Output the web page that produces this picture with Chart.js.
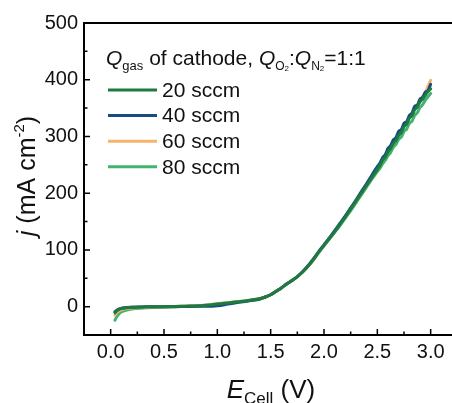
<!DOCTYPE html>
<html>
<head>
<meta charset="utf-8">
<script src="https://cdn.jsdelivr.net/npm/chart.js@4"></script>
<style>
  html, body { margin: 0; padding: 0; background: #fff; overflow: hidden; }
  #wrap { width: 452px; height: 403px; position: relative; }
</style>
</head>
<body>
<div id="wrap"><canvas id="myChart"></canvas></div>
<script>
// cell voltage (V), shared by all series
const eCell = [0.04, 0.06, 0.08, 0.10, 0.15, 0.20, 0.30, 0.40, 0.50, 0.60, 0.70, 0.80, 0.90, 1.00, 1.10, 1.20, 1.30, 1.40,
  1.45, 1.50, 1.55, 1.60, 1.65, 1.70, 1.75, 1.80, 1.85, 1.90, 1.95, 2.00, 2.05, 2.10, 2.15, 2.20, 2.25, 2.30, 2.35, 2.40, 2.45, 2.50,
  2.525, 2.55, 2.575, 2.60, 2.625, 2.65, 2.675, 2.70, 2.725, 2.75, 2.775, 2.80, 2.825, 2.85, 2.875, 2.90, 2.925, 2.95, 2.975, 3.00];

const seriesLabels = ['20 sccm', '40 sccm', '60 sccm', '80 sccm'];
const seriesColors = ['#1f7a3f', '#164c82', '#f6b36b', '#41b46f'];

// current density j (mA cm-2)
const j20 = [-11, -7, -5, -3.5, -2, -1.2, -0.5, 0, 0, 0.3, 0.8, 1.2, 2.5, 4.5, 6.5, 8.5, 11, 14,
  17, 21, 27, 33, 40, 46, 53, 61, 71, 83, 96, 108, 120, 132, 145, 158, 172, 186, 200, 214, 228, 242,
  249, 258, 264, 273, 279, 288, 293, 302, 307, 317, 322, 332, 337, 347, 352, 361, 366, 373, 379, 384];
const j40 = [-9, -6, -4, -3, -1.5, -1, -0.5, 0, 0, 0, 0.3, 0.6, 0.5, 1.5, 4.5, 7.5, 10.5, 13.5,
  17, 21, 27, 33, 40, 46, 53, 62, 72, 84, 97, 109, 121, 134, 147, 160, 174, 188, 203, 217, 232, 247,
  253, 263, 268, 279, 284, 294, 298, 309, 312, 323, 326, 337, 341, 353, 355, 366, 369, 378, 381, 392];
const j60 = [-15, -10, -7.5, -5.5, -3.5, -2.5, -1.5, -0.8, -0.3, 0.2, 0.8, 1.3, 2.6, 4.5, 6.5, 8.5, 11, 14,
  17, 21, 27, 33, 40, 46, 53, 61, 71, 83, 96, 108, 121, 133, 146, 159, 173, 187, 201, 215, 230, 244,
  251, 259, 267, 274, 282, 289, 297, 303, 311, 318, 326, 333, 341, 348, 356, 363, 371, 378, 388, 399];
const j80 = [-24, -17, -12.5, -9.5, -6, -4, -2.5, -1.5, -0.8, 0, 0.8, 1.3, 2.8, 5, 7, 9, 11.5, 14.5,
  17, 21, 27, 33, 40, 46, 53, 61, 71, 82, 95, 107, 119, 131, 143, 156, 169, 183, 197, 211, 225, 238,
  244, 252, 258, 266, 272, 281, 286, 295, 299, 309, 313, 323, 327, 337, 342, 351, 356, 364, 370, 376];

const xTicks = [0, 0.5, 1.0, 1.5, 2.0, 2.5, 3.0];
const xMinor = [0.25, 0.75, 1.25, 1.75, 2.25, 2.75];
const yTicks = [0, 100, 200, 300, 400, 500];
const yMinor = [50, 150, 250, 350, 450];

const FONT = '"Liberation Sans", Arial, sans-serif';

function runWidth(ctx, runs) {
  let w = 0;
  runs.forEach(r => {
    ctx.font = (r.italic ? 'italic ' : '') + r.size + 'px ' + FONT;
    w += ctx.measureText(r.t).width;
  });
  return w;
}
function drawRuns(ctx, runs, x, y) {
  runs.forEach(r => {
    ctx.font = (r.italic ? 'italic ' : '') + r.size + 'px ' + FONT;
    ctx.fillText(r.t, x, y + (r.dy || 0));
    x += ctx.measureText(r.t).width;
  });
}

const decor = {
  id: 'decor',
  afterDraw(chart) {
    const ctx = chart.ctx, a = chart.chartArea;
    const xs = chart.scales.x, ys = chart.scales.y;
    ctx.save();
    ctx.strokeStyle = '#000';
    ctx.lineWidth = 2;
    ctx.beginPath();
    ctx.moveTo(a.left, a.top); ctx.lineTo(a.right, a.top);
    ctx.moveTo(a.left, a.top - 1); ctx.lineTo(a.left, a.bottom + 1);
    ctx.moveTo(a.left - 1, a.bottom); ctx.lineTo(a.right, a.bottom);
    ctx.stroke();

    ctx.lineWidth = 1.5;
    ctx.beginPath();
    xTicks.forEach(v => { const p = xs.getPixelForValue(v); ctx.moveTo(p, a.bottom); ctx.lineTo(p, a.bottom - 6); });
    xMinor.forEach(v => { const p = xs.getPixelForValue(v); ctx.moveTo(p, a.bottom); ctx.lineTo(p, a.bottom - 3.5); });
    yTicks.forEach(v => { const p = ys.getPixelForValue(v); ctx.moveTo(a.left, p); ctx.lineTo(a.left + 6, p); });
    yMinor.forEach(v => { const p = ys.getPixelForValue(v); ctx.moveTo(a.left, p); ctx.lineTo(a.left + 3.5, p); });
    ctx.stroke();

    // legend
    ctx.fillStyle = '#111';
    ctx.textBaseline = 'alphabetic';
    drawRuns(ctx, [
      {t: 'Q', size: 21, italic: true}, {t: 'gas', size: 13, dy: 5},
      {t: ' of cathode, ', size: 21}, {t: 'Q', size: 21, italic: true},
      {t: 'O', size: 12, dy: 5}, {t: '2', size: 8, dy: 6},
      {t: ':', size: 21}, {t: 'Q', size: 21, italic: true},
      {t: 'N', size: 12, dy: 5}, {t: '2', size: 8, dy: 6},
      {t: '=1:1', size: 21}
    ], 106, 65);

    chart.data.datasets.forEach((ds, i) => {
      const y = 90 + i * 25.6;
      ctx.strokeStyle = ds.borderColor;
      ctx.lineWidth = 3;
      ctx.beginPath(); ctx.moveTo(108, y); ctx.lineTo(157, y); ctx.stroke();
      ctx.font = '21px ' + FONT;
      ctx.textBaseline = 'middle';
      ctx.fillText(ds.label, 162, y + 1);
    });

    // axis titles
    ctx.textBaseline = 'alphabetic';
    const xt = [{t: 'E', size: 26, italic: true}, {t: 'Cell', size: 17, dy: 6}, {t: ' (V)', size: 26}];
    drawRuns(ctx, xt, (a.left + a.right) / 2 + 3 - runWidth(ctx, xt) / 2, 398);

    const yt = [{t: 'j', size: 25, italic: true}, {t: ' (mA cm', size: 25}, {t: '-2', size: 15, dy: -11}, {t: ')', size: 25}];
    ctx.translate(35, 176);
    ctx.rotate(-Math.PI / 2);
    drawRuns(ctx, yt, -runWidth(ctx, yt) / 2, 0);
    ctx.restore();
  }
};

const series = [j20, j40, j60, j80];

new Chart(document.getElementById('myChart'), {
  type: 'line',
  data: {
    datasets: series.map((vals, i) => ({
      label: seriesLabels[i],
      data: eCell.map((x, k) => ({x: x, y: vals[k]})),
      borderColor: seriesColors[i],
      borderWidth: 3,
      pointRadius: 0,
      cubicInterpolationMode: 'monotone',
      borderCapStyle: 'round',
      borderJoinStyle: 'round'
    }))
  },
  options: {
    responsive: true,
    maintainAspectRatio: false,
    animation: false,
    layout: { padding: { top: 23, right: 0, left: 0, bottom: 0 } },
    plugins: { legend: { display: false }, tooltip: { enabled: false } },
    scales: {
      x: {
        type: 'linear', min: -0.25, max: 3.2,
        grid: { display: false, drawTicks: false },
        border: { display: false },
        afterBuildTicks: s => { s.ticks = xTicks.map(v => ({value: v})); },
        afterFit: s => { s.height = 68; },
        ticks: { padding: 5, color: '#111', font: { family: FONT, size: 20 }, callback: v => v.toFixed(1) }
      },
      y: {
        min: -50, max: 500,
        grid: { display: false, drawTicks: false },
        border: { display: false },
        afterBuildTicks: s => { s.ticks = yTicks.map(v => ({value: v})); },
        afterFit: s => { s.width = 84; },
        ticks: { padding: 6, color: '#111', font: { family: FONT, size: 20 } }
      }
    }
  },
  plugins: [decor]
});
</script>
</body>
</html>
